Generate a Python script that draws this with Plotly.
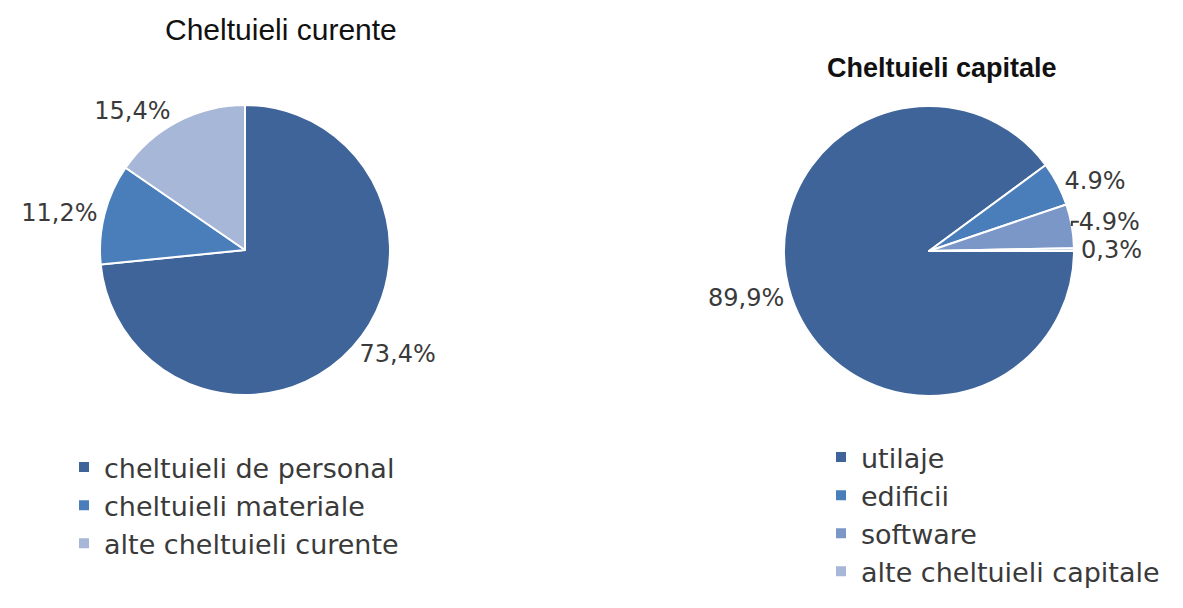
import plotly.graph_objects as go

# Cheltuieli curente
curente_labels = ["cheltuieli de personal", "cheltuieli materiale", "alte cheltuieli curente"]
curente_values = [73.4, 11.2, 15.4]
curente_text = ["73,4%", "11,2%", "15,4%"]
curente_colors = ["#3E6499", "#4A7EBB", "#A6B7D7"]

# Cheltuieli capitale
capitale_labels = ["utilaje", "edificii", "software", "alte cheltuieli capitale"]
capitale_values = [89.9, 4.9, 4.9, 0.3]
capitale_text = ["89,9%", "4.9%", "4.9%", "0,3%"]
capitale_colors = ["#3E6499", "#4A7EBB", "#7B97C8", "#A6B7D7"]

FONT = "DejaVu Sans, Open Sans, sans-serif"
TEXT_COLOR = "#3A3A3A"
W, H = 1175, 600  # page body adds 8px margin

fig = go.Figure()

fig.add_trace(go.Pie(
    labels=curente_labels,
    values=curente_values,
    text=curente_text,
    textinfo="text",
    textposition="outside",
    sort=False,
    direction="clockwise",
    rotation=0,
    marker=dict(colors=curente_colors, line=dict(color="white", width=2)),
    outsidetextfont=dict(family=FONT, size=24, color=TEXT_COLOR),
    domain=dict(x=[92 / W, 382 / W], y=[1 - 387 / H, 1 - 97 / H]),
    legend="legend",
    hoverinfo="label+percent",
))

fig.add_trace(go.Pie(
    labels=capitale_labels,
    values=capitale_values,
    text=capitale_text,
    textinfo="text",
    textposition="outside",
    sort=False,
    direction="clockwise",
    rotation=90,
    marker=dict(colors=capitale_colors, line=dict(color="white", width=2)),
    outsidetextfont=dict(family=FONT, size=24, color=TEXT_COLOR),
    domain=dict(x=[776 / W, 1066 / W], y=[1 - 388 / H, 1 - 98 / H]),
    legend="legend2",
    hoverinfo="label+percent",
))

fig.add_annotation(
    text="Cheltuieli curente", x=273 / W, y=1 - 22 / H, xref="paper", yref="paper",
    xanchor="center", yanchor="middle",
    showarrow=False, font=dict(family="Liberation Sans", size=30, color="#111111"),
)
fig.add_annotation(
    text="<b>Cheltuieli capitale</b>", x=934 / W, y=1 - 60 / H, xref="paper", yref="paper",
    xanchor="center", yanchor="middle",
    showarrow=False, font=dict(family="Liberation Sans", size=27, color="#111111"),
)

fig.update_layout(
    width=W,
    height=H,
    margin=dict(l=0, r=0, t=0, b=0),
    paper_bgcolor="white",
    plot_bgcolor="white",
    font=dict(family=FONT, color=TEXT_COLOR),
    legend=dict(
        x=56 / W, y=1 - 435 / H, xanchor="left", yanchor="top",
        font=dict(family=FONT, size=27, color=TEXT_COLOR),
        itemclick=False, itemdoubleclick=False,
    ),
    legend2=dict(
        x=813 / W, y=1 - 425 / H, xanchor="left", yanchor="top",
        font=dict(family=FONT, size=27, color=TEXT_COLOR),
        itemclick=False, itemdoubleclick=False,
    ),
)

fig.write_html("out.html")
